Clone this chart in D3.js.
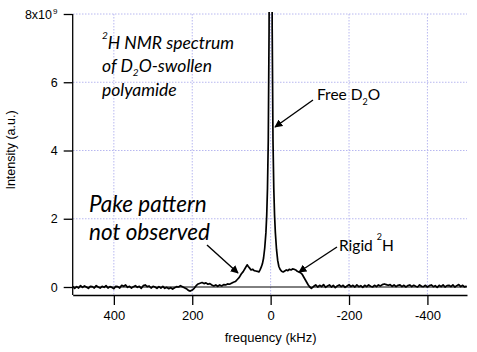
<!DOCTYPE html>
<html>
<head>
<meta charset="utf-8">
<script src="https://cdn.jsdelivr.net/npm/d3@7"></script>
<style>
  body { margin: 0; background: #fff; }
  svg { display: block; }
  .tick text { font-family: "Liberation Sans", Arial, sans-serif; fill: #000; }
  .note { font-family: Lato, "Open Sans", sans-serif; font-style: italic; fill: #000; }
  .label { font-family: Lato, "Open Sans", sans-serif; fill: #000; }
</style>
</head>
<body>
<div id="container"></div>
<script>
/* CONSTANTS AND GLOBALS */
const width = 477, height = 352;

// tick values
const xTicks = [400, 200, 0, -200, -400];
const yTicks = [0, 2, 4, 6, 8];

// spectrum: frequency (kHz), intensity (x1e9)
const freqKHz = [
  505, 500, 495, 490, 485, 480, 475, 470, 465, 460, 455, 450, 445, 440, 435, 430, 425, 420, 415, 410,
  405, 400, 395, 390, 385, 380, 375, 370, 365, 360, 355, 350, 345, 340, 335, 330, 325, 320, 315, 310,
  305, 300, 295, 290, 285, 280, 275, 270, 265, 260, 255, 250, 245, 240, 235, 230, 225, 220, 215, 210,
  205, 200, 195, 190, 185, 180, 175, 170, 165, 160, 155, 150, 145, 140, 135, 130, 125, 120, 115, 110,
  105, 100, 95, 90, 85, 80, 75, 70, 65, 60, 57, 54, 50, 46, 42, 38, 34, 30, 27, 24,
  21, 18, 15, 12, 10, 8, 6, 4, 2, 0, -2, -4, -6, -8, -10, -12, -15, -18, -21, -24,
  -28, -32, -36, -40, -44, -48, -52, -56, -60, -64, -68, -72, -76, -80, -84, -88, -92, -96, -100, -104,
  -110, -115, -120, -125, -130, -135, -140, -145, -150, -155, -160, -165, -170, -175, -180, -185, -190, -195, -200, -205,
  -210, -215, -220, -225, -230, -235, -240, -245, -250, -255, -260, -265, -270, -275, -280, -285, -290, -295, -300, -305,
  -310, -315, -320, -325, -330, -335, -340, -345, -350, -355, -360, -365, -370, -375, -380, -385, -390, -395, -400, -405,
  -410, -415, -420, -425, -430, -435, -440, -445, -450, -455, -460, -465, -470, -475, -480, -485, -490, -495, -500
];
const intensity = [
  0.02, -0.04, 0.01, -0.03, 0.04, -0.01, 0.03, 0.00, -0.04, 0.02, 0.01, -0.03, 0.04, 0.00, -0.03, 0.02, -0.01, 0.04, -0.03, 0.01,
  -0.01, -0.05, 0.02, 0.01, -0.03, 0.05, 0.02, 0.06, -0.01, 0.02, -0.03, 0.01, 0.04, -0.01, 0.02, -0.04, 0.04, 0.06, 0.01, 0.03,
  -0.03, 0.02, 0.00, -0.04, 0.01, -0.03, 0.02, -0.04, -0.01, -0.05, -0.02, -0.06, -0.02, 0.01, 0.00, 0.04, 0.01, -0.02, -0.05, -0.10,
  -0.12, -0.09, -0.04, 0.04, 0.09, 0.11, 0.13, 0.10, 0.12, 0.08, 0.10, 0.06, 0.03, 0.06, 0.02, 0.06, 0.03, 0.07, 0.06, 0.09,
  0.08, 0.11, 0.14, 0.16, 0.22, 0.28, 0.38, 0.45, 0.55, 0.65, 0.60, 0.56, 0.50, 0.52, 0.48, 0.47, 0.46, 0.44, 0.50, 0.58,
  0.68, 0.85, 1.15, 1.6, 2.1, 2.9, 4.3, 7.5, 15, 22, 15, 7.5, 4.3, 2.9, 2.1, 1.6, 1.1, 0.78, 0.60, 0.52,
  0.46, 0.44, 0.47, 0.50, 0.48, 0.52, 0.50, 0.53, 0.52, 0.50, 0.46, 0.44, 0.42, 0.38, 0.30, 0.22, 0.14, 0.06, 0.00, -0.04,
  0.02, 0.06, 0.00, 0.05, 0.01, 0.07, -0.01, 0.03, 0.06, 0.00, 0.05, -0.02, 0.03, 0.06, 0.01, 0.05, -0.01, 0.03, 0.07, 0.01,
  0.05, 0.00, 0.06, 0.01, 0.04, -0.01, 0.05, 0.01, 0.06, 0.02, 0.00, 0.05, 0.01, 0.06, 0.03, 0.07, 0.09, 0.07, 0.05, 0.07,
  0.02, 0.06, 0.01, 0.05, 0.06, 0.01, 0.05, 0.00, 0.04, 0.06, 0.01, 0.05, 0.02, 0.00, 0.06, 0.02, 0.01, 0.05, 0.00, 0.04,
  0.06, 0.01, 0.04, -0.01, 0.05, 0.01, 0.06, 0.00, 0.04, 0.05, 0.01, 0.06, 0.00, 0.04, 0.07, 0.01, 0.05, 0.00, 0.03
];

const svg = d3.select("#container")
  .append("svg")
  .attr("width", width)
  .attr("height", height);

svg.append("rect").attr("width", width).attr("height", height).attr("fill", "#fff");

// SCALES
const x = d3.scaleLinear().domain([505, -501]).range([72.7, 467]);
const y = d3.scaleLinear().domain([0, 8]).range([287, 14]);
const axisY = 295;

// GRID
const gridColor = "#b8b8f0";
svg.append("g").selectAll("line")
  .data(yTicks.filter(d => d > 0))
  .join("line")
  .attr("x1", 73).attr("x2", 467)
  .attr("y1", d => y(d)).attr("y2", d => y(d))
  .attr("stroke", gridColor).attr("stroke-dasharray", "1.5,1.5");
svg.append("g").selectAll("line")
  .data(xTicks)
  .join("line")
  .attr("x1", d => x(d)).attr("x2", d => x(d))
  .attr("y1", 14).attr("y2", axisY)
  .attr("stroke", gridColor).attr("stroke-dasharray", "1.5,1.5");

// ZERO LINE
svg.append("line")
  .attr("x1", 72.7).attr("x2", 467)
  .attr("y1", y(0)).attr("y2", y(0))
  .attr("stroke", "#000").attr("stroke-width", 1);

// AXES
const xAxis = svg.append("g")
  .attr("transform", `translate(0,${axisY})`)
  .call(d3.axisBottom(x).tickValues(xTicks).tickSize(10).tickSizeOuter(0).tickPadding(6)
    .tickFormat(d => String(d)));
xAxis.selectAll(".tick text").style("font-size", "13px");

const yAxis = svg.append("g")
  .attr("transform", "translate(72.7,0)")
  .call(d3.axisLeft(y).tickValues(yTicks).tickSize(9).tickSizeOuter(0).tickPadding(6)
    .tickFormat(d => d === 8 ? "" : String(d)));
yAxis.select(".domain").attr("d", `M0,${y(8)}V${axisY}`);
yAxis.selectAll(".tick text").style("font-size", "12.5px");
svg.selectAll(".domain, .tick line").attr("stroke", "#000").attr("stroke-width", 1.3);

// top label 8x10^9
svg.append("text")
  .attr("x", 52).attr("y", y(8) + 4.5)
  .attr("text-anchor", "end")
  .style("font-family", "Liberation Sans, Arial, sans-serif")
  .style("font-size", "12.5px")
  .text("8x10");
svg.append("text")
  .attr("x", 53).attr("y", y(8))
  .style("font-family", "Liberation Sans, Arial, sans-serif")
  .style("font-size", "8px")
  .text("9");

// AXIS TITLES
svg.append("text")
  .attr("x", x(0)).attr("y", 342)
  .attr("text-anchor", "middle")
  .style("font-family", "Liberation Sans, Arial, sans-serif")
  .style("font-size", "13px")
  .text("frequency (kHz)");
svg.append("text")
  .attr("transform", "translate(15,150) rotate(-90)")
  .attr("text-anchor", "middle")
  .style("font-family", "Liberation Sans, Arial, sans-serif")
  .style("font-size", "12.5px")
  .text("Intensity (a.u.)");

// SPECTRUM LINE
svg.append("clipPath").attr("id", "plot-clip")
  .append("rect").attr("x", 72.7).attr("y", 12).attr("width", 395).attr("height", 290);

const line = d3.line()
  .x(i => x(freqKHz[i]))
  .y(i => y(intensity[i]));

svg.append("path")
  .datum(d3.range(freqKHz.length))
  .attr("clip-path", "url(#plot-clip)")
  .attr("d", line)
  .attr("fill", "none")
  .attr("stroke", "#000")
  .attr("stroke-width", 1.7)
  .attr("stroke-linejoin", "round");

// ANNOTATIONS
svg.append("defs").append("marker")
  .attr("id", "arrow")
  .attr("viewBox", "0 0 10 10")
  .attr("refX", 9).attr("refY", 5)
  .attr("markerWidth", 8).attr("markerHeight", 8)
  .attr("markerUnits", "userSpaceOnUse")
  .attr("orient", "auto")
  .append("path").attr("d", "M0,0L10,5L0,10z").attr("fill", "#000");

function arrow(x1, y1, x2, y2) {
  svg.append("line")
    .attr("x1", x1).attr("y1", y1).attr("x2", x2).attr("y2", y2)
    .attr("stroke", "#000").attr("stroke-width", 1.4)
    .attr("marker-end", "url(#arrow)");
}

// title block
const t1 = svg.append("text").attr("class", "note").attr("x", 102).attr("y", 49).style("font-size", "17.5px");
t1.append("tspan").style("font-size", "10px").attr("dy", -10).text("2");
t1.append("tspan").attr("dy", 10).text("H NMR spectrum");
const t2 = svg.append("text").attr("class", "note").attr("x", 102).attr("y", 72).style("font-size", "17.5px");
t2.append("tspan").text("of D");
t2.append("tspan").style("font-size", "10px").attr("dy", 4).text("2");
t2.append("tspan").attr("dy", -4).text("O-swollen");
svg.append("text").attr("class", "note").attr("x", 102).attr("y", 96).style("font-size", "17.5px").text("polyamide");

// pake pattern
svg.append("text").attr("class", "note").attr("x", 89).attr("y", 212).style("font-size", "22.5px").text("Pake pattern");
svg.append("text").attr("class", "note").attr("x", 89).attr("y", 240).style("font-size", "22.5px").text("not observed");
arrow(207, 245, 238, 273);

// free D2O
const fd = svg.append("text").attr("class", "label").attr("x", 317).attr("y", 100).style("font-size", "15.5px");
fd.append("tspan").text("Free D");
fd.append("tspan").style("font-size", "9px").attr("dy", 5).text("2");
fd.append("tspan").attr("dy", -5).text("O");
arrow(313, 100, 275, 127);

// rigid 2H
const rh = svg.append("text").attr("class", "label").attr("x", 339).attr("y", 251).style("font-size", "15.5px");
rh.append("tspan").text("Rigid ");
rh.append("tspan").style("font-size", "9px").attr("dy", -11).text("2");
rh.append("tspan").attr("dy", 11).text("H");
arrow(337, 247, 299, 272);
</script>
</body>
</html>
